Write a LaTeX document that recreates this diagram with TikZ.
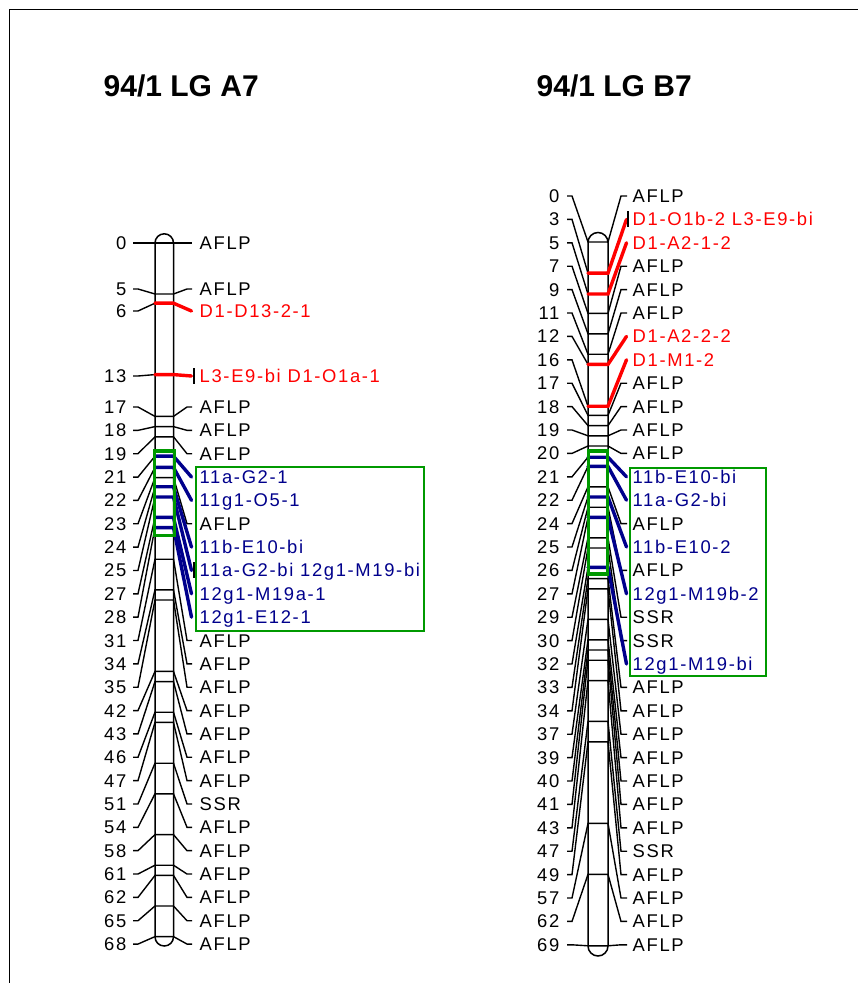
\documentclass[tikz,border=0pt]{standalone}
\usepackage{fontspec}
\setmainfont{Liberation Sans}
\newfontfamily\labfont[LetterSpace=9]{Liberation Sans}
\definecolor{mkred}{RGB}{255,0,0}
\definecolor{mkblue}{RGB}{0,0,140}
\definecolor{mkgreen}{RGB}{0,153,0}
\newcommand\mkblack[4]{%
  \draw[thinl] (\lxa,#2) -- (\lxb,#2) -- (\chL,{\yz+10.2*#1}) -- (\chR,{\yz+10.2*#1}) -- (\rxa,#2) -- (\rxb,#2);
  \node[lab,anchor=east] (\pre n#3) at (\numx,#2) {#3};
  \node[lab,anchor=west] (\pre m#3) at (\namex,#2) {#4};
}
\newcommand\mkcol[5]{%
  \draw[thinl] (\lxa,#2) -- (\lxb,#2) -- (\chL,{\yz+10.2*#1});
  \draw[thickl,#5] (\chL,{\yz+10.2*#1}) -- (\chR,{\yz+10.2*#1}) -- (\rxb-0.5,#2);
  \node[lab,anchor=east] (\pre n#3) at (\numx,#2) {#3};
  \node[lab,anchor=west,text=#5] (\pre m#3) at (\namex,#2) {#4};
}
\newcommand\mktick[1]{\draw[line width=2pt] (\tickx,{#1-8}) -- (\tickx,{#1+8});}
\begin{document}
\begin{tikzpicture}[x=1pt,y=-1pt,
  thinl/.style={line width=1.4pt},
  thickl/.style={line width=3.4pt,line cap=round},
  lab/.style={inner sep=0pt,font={\labfont\fontsize{18.4}{19}\selectfont},text height=13pt,text depth=0pt},
  ttl/.style={inner sep=0pt,anchor=base west,font={\bfseries\fontsize{30}{30}\selectfont}},
  chrom/.style={line width=1.5pt,fill=white},
  barbox/.style={draw=mkgreen,line width=3.3pt},
  labbox/.style={draw=mkgreen,line width=2pt}]
\useasboundingbox (0,0) rectangle (858,983);
\fill[white] (0,0) rectangle (858,983);
\draw[line width=1.5pt] (9.5,983) -- (9.5,9.5) -- (858,9.5);
\node[ttl] (tA) at (103.5,96.7) {94/1 LG A7};
\node[ttl] (tB) at (536.5,96.7) {94/1 LG B7};
% ---------------- LG A7 ----------------
\def\pre{A}\def\chL{155}\def\chR{173.5}\def\yz{243}
\def\lxa{133}\def\lxb{138}\def\rxa{187}\def\rxb{192}
\def\numx{126.5}\def\namex{199.5}\def\tickx{194}
\draw[chrom,rounded corners=9.2pt] (155,233.8) rectangle (173.5,946);
\mkblack{0}{243}{0}{AFLP}
\mkblack{5}{289}{5}{AFLP}
\mkcol{5.9}{311}{6}{D1-D13-2-1}{mkred}
\mkcol{12.9}{376}{13}{L3-E9-bi D1-O1a-1}{mkred}
\mktick{376}
\mkblack{17}{407}{17}{AFLP}
\mkblack{18}{430.35}{18}{AFLP}
\mkblack{19}{453.7}{19}{AFLP}
\mkblack{23}{523.75}{23}{AFLP}
\mkblack{31}{640.5}{31}{AFLP}
\mkblack{34}{663.85}{34}{AFLP}
\mkblack{35}{687.2}{35}{AFLP}
\mkblack{42}{710.55}{42}{AFLP}
\mkblack{43}{733.9}{43}{AFLP}
\mkblack{46}{757.25}{46}{AFLP}
\mkblack{47}{780.6}{47}{AFLP}
\mkblack{51}{803.95}{51}{SSR}
\mkblack{54}{827.3}{54}{AFLP}
\mkblack{58}{850.65}{58}{AFLP}
\mkblack{61}{874}{61}{AFLP}
\mkblack{62}{897.35}{62}{AFLP}
\mkblack{65}{920.7}{65}{AFLP}
\mkblack{68}{944.05}{68}{AFLP}
\mkcol{20.9}{477.05}{21}{11a-G2-1}{mkblue}
\mkcol{22}{500.4}{22}{11g1-O5-1}{mkblue}
\mkcol{23.9}{547.1}{24}{11b-E10-bi}{mkblue}
\mkcol{24.9}{570.45}{25}{11a-G2-bi 12g1-M19-bi}{mkblue}
\mktick{570.45}
\mkcol{26.9}{593.8}{27}{12g1-M19a-1}{mkblue}
\mkcol{27.9}{617.15}{28}{12g1-E12-1}{mkblue}
\draw[barbox] (154.3,451) rectangle (174.5,535.6);
\draw[labbox] (196,466.7) rectangle (424,630.7);
% ---------------- LG B7 ----------------
\def\pre{B}\def\chL{588}\def\chR{608}\def\yz{242}
\def\lxa{567}\def\lxb{572}\def\rxa{621}\def\rxb{627}
\def\numx{559.5}\def\namex{632.5}\def\tickx{627.5}
\draw[chrom,rounded corners=10pt] (588,232.5) rectangle (608,956);
\mkblack{0}{196}{0}{AFLP}
\mkblack{7}{266.2}{7}{AFLP}
\mkblack{9}{289.6}{9}{AFLP}
\mkblack{11}{313}{11}{AFLP}
\mkblack{17}{383.2}{17}{AFLP}
\mkblack{18}{406.6}{18}{AFLP}
\mkblack{19}{430}{19}{AFLP}
\mkblack{20}{453.4}{20}{AFLP}
\mkblack{24}{523.6}{24}{AFLP}
\mkblack{26}{570.4}{26}{AFLP}
\mkblack{29}{617.2}{29}{SSR}
\mkblack{30}{640.6}{30}{SSR}
\mkblack{33}{687.4}{33}{AFLP}
\mkblack{34}{710.8}{34}{AFLP}
\mkblack{37}{734.2}{37}{AFLP}
\mkblack{39}{757.6}{39}{AFLP}
\mkblack{40}{781}{40}{AFLP}
\mkblack{41}{804.4}{41}{AFLP}
\mkblack{43}{827.8}{43}{AFLP}
\mkblack{47}{851.2}{47}{SSR}
\mkblack{49}{874.6}{49}{AFLP}
\mkblack{57}{898}{57}{AFLP}
\mkblack{62}{921.4}{62}{AFLP}
\mkblack{69}{944.8}{69}{AFLP}
\mkcol{3.05}{219.4}{3}{D1-O1b-2 L3-E9-bi}{mkred}
\mktick{219.4}
\mkcol{5.1}{242.8}{5}{D1-A2-1-2}{mkred}
\mkcol{12}{336.4}{12}{D1-A2-2-2}{mkred}
\mkcol{16.1}{359.8}{16}{D1-M1-2}{mkred}
\mkcol{21.1}{476.8}{21}{11b-E10-bi}{mkblue}
\mkcol{22}{500.2}{22}{11a-G2-bi}{mkblue}
\mkcol{25}{547}{25}{11b-E10-2}{mkblue}
\mkcol{27}{593.8}{27}{12g1-M19b-2}{mkblue}
\mkcol{31.9}{664}{32}{12g1-M19-bi}{mkblue}
\draw[barbox] (588.3,451) rectangle (607.7,574);
\draw[labbox] (630.3,468.3) rectangle (765.7,675.7);
\end{tikzpicture}
\end{document}
